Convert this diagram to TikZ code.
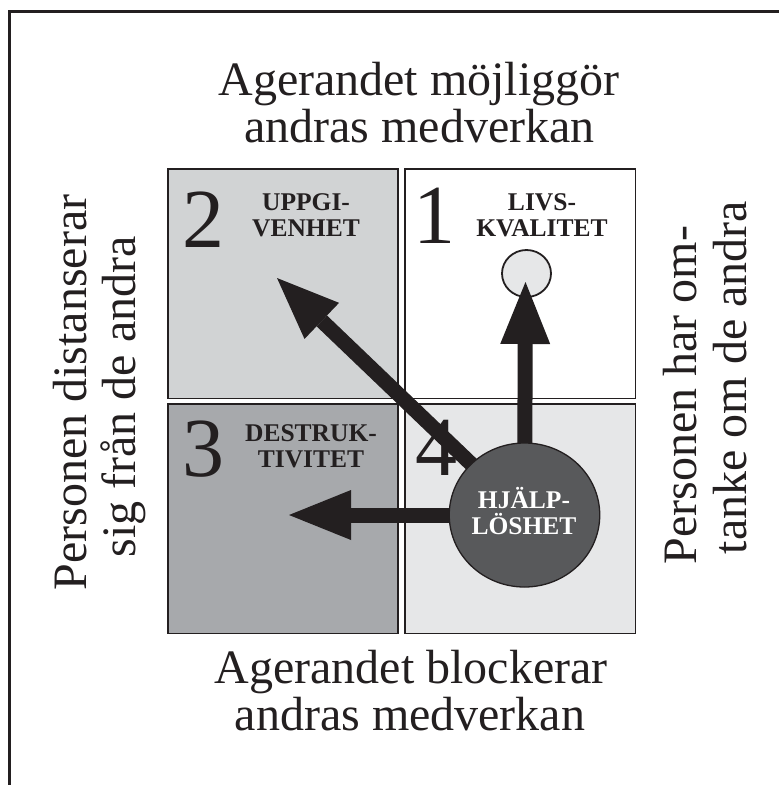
\documentclass[tikz,border=0pt]{standalone}
\usepackage{fontspec}
\setmainfont{Liberation Serif}
\usetikzlibrary{arrows.meta,shapes.geometric}
\definecolor{ink}{HTML}{231F20}
\definecolor{grayA}{HTML}{D1D3D4}
\definecolor{grayB}{HTML}{A7A9AC}
\definecolor{grayC}{HTML}{E6E7E8}
\definecolor{hubgray}{HTML}{58595B}
\begin{document}
\begin{tikzpicture}[x=1pt,y=-1pt,
  quad/.style={draw=ink, line width=1.6pt, minimum width=230.5pt, minimum height=229.5pt, inner sep=0pt},
  num/.style={font=\fontsize{84}{84}\selectfont, inner sep=0pt, anchor=base, text=ink},
  lab/.style={font=\bfseries\fontsize{25.5}{25.5}\selectfont, align=center, inner sep=0pt, text=ink},
  big/.style={font=\fontsize{48}{47}\selectfont, inner sep=0pt, anchor=base, text=ink},
  side/.style={big, rotate=90},
  arrowline/.style={draw=ink, line width=15pt, -{Triangle[length=62pt,width=50pt,line width=0pt]}},
]
\useasboundingbox (0,0) rectangle (779,785);
% frame
\draw[ink, line width=3pt, line join=miter] (779,11.5) -- (9.5,11.5) -- (9.5,785);
% quadrants
\node[quad, fill=grayA] (q2) at (283,283.9) {};
\node[quad, fill=white] (q1) at (520.2,283.9) {};
\node[quad, fill=grayB] (q3) at (283,518.9) {};
\node[quad, fill=grayC] (q4) at (520.2,518.9) {};
% numbers
\node[num] (n2) at (203,247.5) {2};
\node[num] (n1) at (434.5,243.5) {1};
\node[num] (n3) at (203,476.5) {3};
\node[num] (n4) at (436.5,475.5) {4};
% labels
\node[lab] (l2) at (306,215) {UPPGI-\\VENHET};
\node[lab] (l1) at (542,215) {LIVS-\\KVALITET};
\node[lab] (l3) at (311,446) {DESTRUK-\\TIVITET};
% goal circle
\node[ellipse, draw=ink, line width=1.8pt, fill=grayC, minimum width=49pt, minimum height=47pt, inner sep=0pt] (goal) at (526.5,273.5) {};
% arrows
\coordinate (hc) at (524.5,515);
\coordinate (tipU) at (525.5,282);
\coordinate (tipL) at (289,515);
\coordinate (tipD) at (277,278);
\draw[arrowline] (hc) -- (tipD);
\draw[arrowline] (hc) -- (tipL);
\draw[arrowline] (hc) -- (tipU);
% hub
\node[ellipse, draw=ink, line width=1.3pt, fill=hubgray, minimum width=150.5pt, minimum height=144pt, inner sep=0pt] (hub) at (hc) {};
\node[lab, text=white] (hubtext) at (524,511) {HJÄLP-\\LÖSHET};
% axis texts
\node[big] (top1) at (419,95) {Agerandet möjliggör};
\node[big] (top2) at (419.5,142) {andras medverkan};
\node[big] (bot1) at (411,683.3) {Agerandet blockerar};
\node[big] (bot2) at (410,730.5) {andras medverkan};
\node[side] (left1) at (86,392.5) {Personen distanserar};
\node[side] (left2) at (135,397) {sig från de andra};
\node[side] (right1) at (696,395) {Personen har om-};
\node[side] (right2) at (746,377.5) {tanke om de andra};
\end{tikzpicture}
\end{document}
